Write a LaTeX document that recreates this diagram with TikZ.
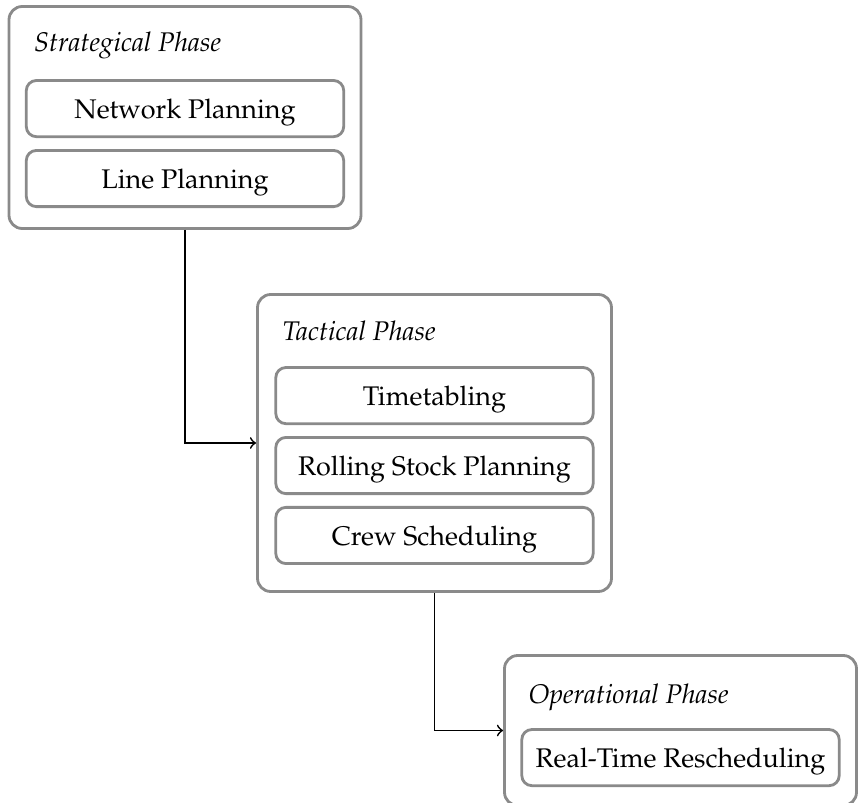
\documentclass[tikz,border=0pt]{standalone}
\usepackage[T1]{fontenc}
\usepackage{mathpazo}
\usetikzlibrary{positioning}
\newcommand{\pu}{0.356pt}
\definecolor{boxgray}{HTML}{8A8A8A}
\tikzset{ phase/.style = { draw = boxgray
                         , line width      = 1pt
                         , rounded corners = 4.7pt
                         , inner sep       = 0pt
                         },
          task/.style = { draw = boxgray
                        , line width      = 1pt
                        , rounded corners = 3.6pt
                        , minimum width   = 113pt
                        , minimum height  = 20pt
                        , inner sep       = 0pt
                        , text depth      = 0pt
                        },
          phasename/.style = { anchor    = base west
                             , font      = \fontsize{9.6pt}{11.5pt}\selectfont\itshape
                             , inner sep = 0pt
                             },
          flow/.style = { ->
                        , semithick
                        }
        }

\begin{document}
\begin{tikzpicture}[x=\pu, y=-\pu, node distance=3.9pt, font=\fontsize{9.6pt}{11.5pt}\selectfont]
    \useasboundingbox (0,0) rectangle (858,803);
    % strategical
    \node[phase, minimum width=352*\pu, minimum height=222*\pu] (strat) at (185,117.5) {};
    \node[phasename] (stratname) at ([xshift=26*\pu, yshift=-46*\pu]strat.north west) {Strategical Phase};
    \node[task, anchor=north] (netplan) at ([yshift=-74*\pu]strat.north) {Network Planning};
    \node[task, below=of netplan] (lineplan) {Line Planning};
    % tactical
    \node[phase, minimum width=354*\pu, minimum height=297*\pu] (tact) at (434.5,443) {};
    \node[phasename] (tactname) at ([xshift=26*\pu, yshift=-47*\pu]tact.north west) {Tactical Phase};
    \node[task, anchor=north] (timetab) at ([yshift=-73*\pu]tact.north) {Timetabling};
    \node[task, below=of timetab] (rolling) {Rolling Stock Planning};
    \node[task, below=of rolling] (crew) {Crew Scheduling};
    % operational
    \node[phase, minimum width=352*\pu, minimum height=150*\pu] (oper) at (680.5,730.5) {};
    \node[phasename] (opername) at ([xshift=25*\pu, yshift=-49*\pu]oper.north west) {Operational Phase};
    \node[task, anchor=north] (realtime) at ([yshift=-74*\pu]oper.north) {Real-Time Rescheduling};
    % links
    \draw[flow] (strat.south) |- (tact.west);
    \draw[flow] (tact.south) |- (oper.west);
\end{tikzpicture}
\end{document}
